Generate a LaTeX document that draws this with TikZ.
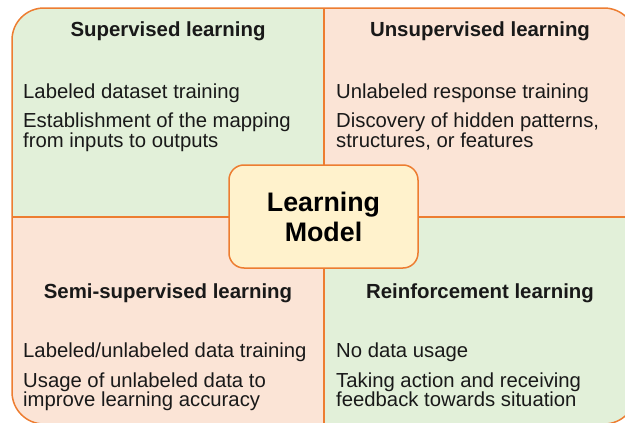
\documentclass[tikz,border=0pt]{standalone}
\usepackage{fontspec}
\setmainfont{Liberation Sans}
\definecolor{qgreen}{HTML}{E2F0D9}
\definecolor{qpink}{HTML}{FBE4D6}
\definecolor{cyellow}{HTML}{FFF2CC}
\definecolor{qborder}{HTML}{ED7D31}
\tikzset{
  body/.style={anchor=base west, inner sep=0pt, font=\fontsize{20.3}{20.3}\selectfont, text=black!90},
  title/.style={anchor=base, inner sep=0pt, font=\fontsize{20.4}{20.4}\selectfont\bfseries, text=black!90},
  center/.style={draw=qborder, line width=1.5pt, fill=cyellow, rounded corners=15pt, minimum width=189pt, minimum height=103pt, inner sep=0pt, align=center, font=\fontsize{26.8}{31}\selectfont\bfseries}
}
\begin{document}
\begin{tikzpicture}[x=1pt,y=-1pt]
\useasboundingbox (0,0) rectangle (625,423);
\begin{scope}
\clip (0,0) rectangle (625,423);
\begin{scope}
\clip[rounded corners=32pt] (12,8) rectangle (636,424);
\fill[qgreen] (0,0) rectangle (324,217);
\fill[qpink] (324,0) rectangle (640,217);
\fill[qpink] (0,217) rectangle (324,430);
\fill[qgreen] (324,217) rectangle (640,430);
\end{scope}
\draw[qborder, line width=1.5pt, rounded corners=32pt] (12,8) rectangle (636,424);
\draw[qborder, line width=1.5pt] (324,8) -- (324,424);
\draw[qborder, line width=1.5pt] (12,217) -- (636,217);
\end{scope}
\node[center] (lm) at (323.5,216.5) {Learning\\[-1pt]Model};
% top-left
\node[title] (t1) at (168,37) {Supervised learning};
\node[body] (a1) at (23,98) {Labeled dataset training};
\node[body] (a2) at (23,127.5) {Establishment of the mapping};
\node[body] (a3) at (23,147) {from inputs to outputs};
% top-right
\node[title] (t2) at (480,37) {Unsupervised learning};
\node[body] (b1) at (336,98) {Unlabeled response training};
\node[body] (b2) at (336,127.5) {Discovery of hidden patterns,};
\node[body] (b3) at (336,147) {structures, or features};
% bottom-left
\node[title] (t3) at (168,298) {Semi-supervised learning};
\node[body] (c1) at (23,357.5) {Labeled/unlabeled data training};
\node[body] (c2) at (23,387) {Usage of unlabeled data to};
\node[body] (c3) at (23,406.5) {improve learning accuracy};
% bottom-right
\node[title] (t4) at (480,298) {Reinforcement learning};
\node[body] (d1) at (336,357.5) {No data usage};
\node[body] (d2) at (336,387) {Taking action and receiving};
\node[body] (d3) at (336,406.5) {feedback towards situation};
\end{tikzpicture}
\end{document}
